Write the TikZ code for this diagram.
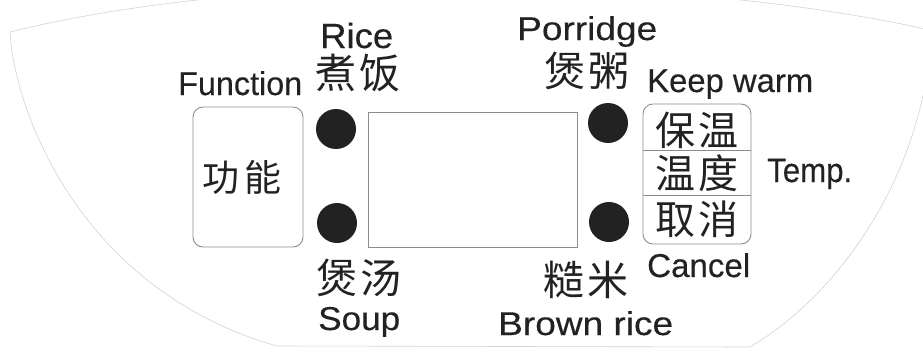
\documentclass[tikz,border=0pt]{standalone}
\usepackage{fontspec}
\usepackage{graphicx}
\setmainfont[FakeBold=0.3]{Liberation Sans}
\newfontfamily\cjk{Noto Sans CJK SC}
\definecolor{ink}{HTML}{222222}
\definecolor{edge}{HTML}{8C8C8C}
\definecolor{rim}{HTML}{D2D2D2}
\newcommand{\wlab}[2]{\resizebox{#1pt}{\height}{#2}}
\tikzset{
  lab/.style={anchor=base west, inner sep=0pt, text=ink, font=\fontsize{33}{33}\selectfont},
  cjklab/.style={inner sep=0pt, text=ink, font=\cjk\fontsize{40}{40}\selectfont},
  ledot/.style={circle, fill=ink, minimum size=40pt, inner sep=0pt},
  btnbox/.style={draw=edge, line width=0.9pt, rounded corners=10pt, inner sep=0pt},
  dispbox/.style={draw=edge, line width=0.9pt, inner sep=0pt},
  rimline/.style={draw=rim, line width=0.6pt}
}
\begin{document}
\begin{tikzpicture}[x=1pt,y=-1pt]
\useasboundingbox (0,0) rectangle (923,356);
\begin{scope}
\clip (0,0) rectangle (923,356);
% faint outline of the panel
\path[rimline] (10,32) .. controls (250,-28) and (660,-30) .. (930,30);
\path[rimline] (10,32) .. controls (14,110) and (80,290) .. (277,346) -- (750,347)
  .. controls (830,300) and (905,200) .. (926,80);
\end{scope}

% function button
\node[btnbox, minimum width=110pt, minimum height=140pt] (fn) at (248,177) {};
\node[cjklab, font=\cjk\fontsize{37}{37}\selectfont] (fntxt) at (242,177) {功\hspace{5pt}能};
\node[lab] (fnlab) at (178,95) {\wlab{124}{Function}};

% indicator dots
\node[ledot] (rice) at (336,129) {};
\node[ledot] (soup) at (337,223) {};
\node[ledot] (porr) at (608,123) {};
\node[ledot] (brown) at (609,222) {};

% display
\node[dispbox, minimum width=209pt, minimum height=135pt] (disp) at (472.5,179.5) {};

% right button group
\node[btnbox, minimum width=108pt, minimum height=140pt] (kw) at (697,174) {};
\coordinate (d1) at (697,150);
\coordinate (d2) at (697,195);
\draw[edge, line width=0.9pt] (kw.west |- d1) -- (kw.east |- d1);
\draw[edge, line width=0.9pt] (kw.west |- d2) -- (kw.east |- d2);
\node[cjklab] (keep) at (697,130) {保\hspace{3pt}温};
\node[cjklab] (temp) at (697,173) {温\hspace{3pt}度};
\node[cjklab] (canc) at (697,219) {取\hspace{3pt}消};

% labels
\node[lab, font=\fontsize{35}{35}\selectfont, text depth=0pt] (ricelab) at (320,48) {\wlab{73}{Rice}};
\node[cjklab, font=\cjk\fontsize{41}{41}\selectfont] (ricecn) at (358,73) {煮\hspace{4pt}饭};
\node[lab] (porrlab) at (517,40) {\wlab{140}{Porridge}};
\node[cjklab, font=\cjk\fontsize{41}{41}\selectfont] (porrcn) at (587,71) {煲\hspace{4pt}粥};
\node[lab] (keeplab) at (647,92) {\wlab{166}{Keep warm}};
\node[lab, font=\fontsize{34}{34}\selectfont] (templab) at (767,182) {\wlab{85}{Temp.}};
\node[lab] (canclab) at (647,277) {\wlab{103}{Cancel}};
\node[cjklab, font=\cjk\fontsize{41}{41}\selectfont] (soupcn) at (359,278) {煲\hspace{4pt}汤};
\node[lab] (souplab) at (318,330) {\wlab{82}{Soup}};
\node[cjklab, font=\cjk\fontsize{41}{41}\selectfont] (browncn) at (586,280) {糙\hspace{4pt}米};
\node[lab] (brownlab) at (498,335) {\wlab{175}{Brown rice}};
\end{tikzpicture}
\end{document}
